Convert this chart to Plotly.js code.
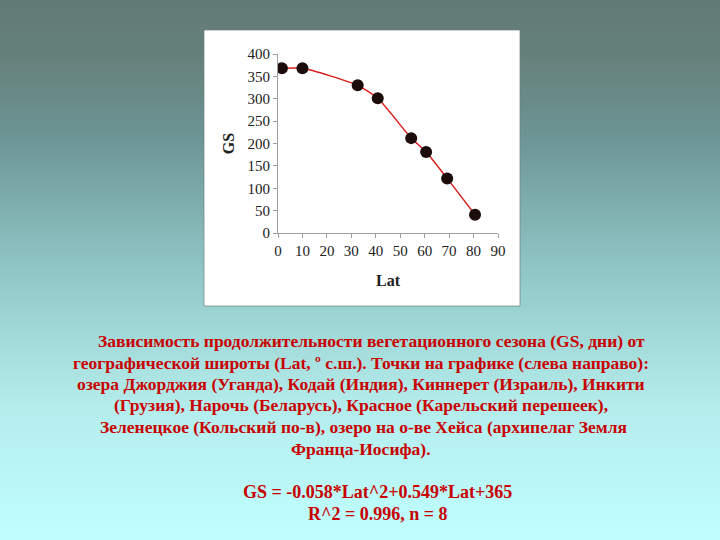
<!DOCTYPE html>
<html>
<head>
<meta charset="utf-8">
<script src="https://cdn.plot.ly/plotly-3.0.1.min.js"></script>
<style>
html, body { margin:0; padding:0; width:720px; height:540px; overflow:hidden; }
body { background: linear-gradient(to bottom, #627a74 0%, #65807a 10%, #6c9494 25%, #90c6c6 50%, #b4ecec 75%, #c0ffff 100%); }
#chart { width:720px; height:540px; }
</style>
</head>
<body>
<div id="chart"></div>
<script>
// Data
const lat = [1.6, 10.0, 32.6, 40.8, 54.5, 60.6, 69.2, 80.6];
const gs  = [368, 368, 330, 301, 212, 181, 122, 41];

const xTicks = [0, 10, 20, 30, 40, 50, 60, 70, 80, 90];
const yTicks = [0, 50, 100, 150, 200, 250, 300, 350, 400];

const captionLines = [
  "Зависимость продолжительности вегетационного сезона (GS, дни) от",
  "географической широты (Lat, º с.ш.). Точки на графике (слева направо):",
  "озера Джорджия (Уганда), Кодай (Индия), Киннерет (Израиль), Инкити",
  "(Грузия), Нарочь (Беларусь), Красное (Карельский перешеек),",
  "Зеленецкое (Кольский по-в), озеро на о-ве Хейса (архипелаг Земля",
  "Франца-Иосифа)."
];
const formulaLines = [
  "GS = -0.058*Lat^2+0.549*Lat+365",
  "R^2 = 0.996, n = 8"
];

// layout geometry (pixels -> paper)
const L = 278, R = 222, T = 54, B = 307;
const W = 720 - L - R, H = 540 - T - B;
const X = px => (px - L) / W;
const Y = py => (540 - B - py) / H;

const serif = "Liberation Serif, Times New Roman, serif";
const red = "#c80000";

const captionY = [341, 363, 384, 405, 427, 449];
const captionX = [371, 361, 361, 361, 363, 361];
const formulaY = [492, 514];

const annotations = [];
captionLines.forEach((t, i) => {
  annotations.push({
    text: "<b>" + t + "</b>", xref: "paper", yref: "paper",
    x: X(captionX[i]), y: Y(captionY[i]), xanchor: "center", yanchor: "middle",
    showarrow: false, font: {family: serif, size: 17.5, color: red}
  });
});
formulaLines.forEach((t, i) => {
  annotations.push({
    text: "<b>" + t + "</b>", xref: "paper", yref: "paper",
    x: X(377), y: Y(formulaY[i]), xanchor: "center", yanchor: "middle",
    showarrow: false, font: {family: serif, size: 18, color: red}
  });
});

const trace = {
  x: lat, y: gs, type: "scatter", mode: "lines+markers",
  line: {color: "#d81e1e", width: 1.5, shape: "spline", smoothing: 0.6},
  marker: {color: "#1c0c0c", size: 12, line: {width: 0}},
  hoverinfo: "x+y", showlegend: false
};

const axisCommon = {
  showgrid: false, zeroline: false, showline: true, linecolor: "#a0a0a0", linewidth: 1,
  ticks: "outside", ticklen: 4, tickcolor: "#a0a0a0",
  tickfont: {family: serif, size: 15, color: "#202020"}
};

const layout = {
  width: 720, height: 540,
  margin: {l: L, r: R, t: T, b: B, pad: 0},
  paper_bgcolor: "rgba(0,0,0,0)", plot_bgcolor: "#ffffff",
  xaxis: Object.assign({}, axisCommon, {
    range: [0, 90], tickvals: xTicks, ticktext: xTicks.map(String),
    title: {text: "<b>Lat</b>", font: {family: serif, size: 16, color: "#202020"}, standoff: 16}
  }),
  yaxis: Object.assign({}, axisCommon, {
    range: [0, 400], tickvals: yTicks, ticktext: yTicks.map(String),
    title: {text: "<b>GS</b>", font: {family: serif, size: 16, color: "#202020"}, standoff: 8}
  }),
  shapes: [{
    type: "rect", xref: "paper", yref: "paper", layer: "below",
    x0: X(204), x1: X(520), y0: Y(306), y1: Y(30),
    fillcolor: "#ffffff", line: {color: "rgba(110,130,130,0.7)", width: 1}
  }],
  annotations: annotations
};

Plotly.newPlot("chart", [trace], layout, {displayModeBar: false, staticPlot: true});
</script>
</body>
</html>
